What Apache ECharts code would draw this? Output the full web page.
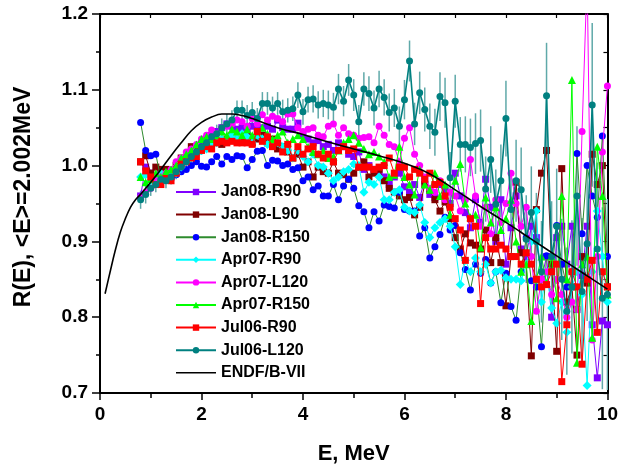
<!DOCTYPE html>
<html>
<head>
<meta charset="utf-8">
<script src="https://cdn.jsdelivr.net/npm/echarts@6/dist/echarts.min.js"></script>
<style>
html,body{margin:0;padding:0;background:#fff;}
#chart{width:621px;height:470px;}
</style>
</head>
<body>
<div id="chart"></div>
<script>
var energies = [
0.8,0.9,1.0,1.1,1.2,1.3,1.4,1.5,1.6,1.7,
1.8,1.9,2.0,2.1,2.2,2.3,2.4,2.5,2.6,2.7,
2.8,2.9,3.0,3.1,3.2,3.3,3.4,3.5,3.6,3.7,
3.8,3.9,4.0,4.1,4.2,4.3,4.4,4.5,4.6,4.7,
4.8,4.9,5.0,5.1,5.2,5.3,5.4,5.5,5.6,5.7,
5.8,5.9,6.0,6.1,6.2,6.3,6.4,6.5,6.6,6.7,
6.8,6.9,7.0,7.1,7.2,7.3,7.4,7.5,7.6,7.7,
7.8,7.9,8.0,8.1,8.2,8.3,8.4,8.5,8.6,8.7,
8.8,8.9,9.0,9.1,9.2,9.3,9.4,9.5,9.6,9.7,
9.8,9.9,10.0];

var jan08R90 = [
0.960,0.998,0.990,0.985,0.990,0.982,0.985,0.990,1.000,1.010,
1.020,1.025,1.030,1.035,1.040,1.045,1.050,1.055,1.052,1.048,
1.050,1.045,1.052,1.048,1.050,1.052,1.048,1.060,1.050,1.048,
1.048,1.056,1.040,1.035,1.030,1.033,1.025,1.028,1.020,1.030,
1.025,1.015,1.012,1.018,0.995,1.000,0.995,0.990,0.985,0.975,
0.985,0.990,0.972,0.965,0.975,0.958,0.980,0.962,0.958,0.975,
0.968,0.950,0.990,0.960,0.938,0.918,0.955,0.925,0.982,0.945,
0.900,0.955,0.870,0.918,0.960,0.890,0.880,0.920,0.905,0.850,
0.880,0.800,0.905,0.920,0.870,0.920,0.810,0.855,0.920,0.790,
0.720,0.795,0.790];

var jan08L90 = [
1.005,1.013,0.990,0.998,0.995,0.995,0.990,1.000,1.010,1.008,
1.025,1.020,1.022,1.025,1.030,1.032,1.028,1.035,1.040,1.035,
1.032,1.038,1.030,1.035,1.040,1.030,1.035,1.022,1.025,1.018,
1.010,1.015,0.998,1.005,0.985,0.998,0.992,0.990,1.005,0.990,
0.988,0.982,0.990,0.998,1.005,0.985,0.990,0.995,0.980,0.970,
0.965,0.960,0.955,0.958,0.935,0.945,0.975,0.968,0.955,0.940,
0.952,0.930,0.905,0.890,0.910,0.898,0.895,0.890,0.915,0.872,
0.905,0.872,0.815,0.880,0.978,0.885,0.870,0.749,0.942,0.990,
1.020,0.870,0.755,0.996,0.820,0.840,0.750,0.880,0.845,1.015,
0.975,1.000,0.840];

var jan08R150 = [
1.057,1.020,1.013,1.015,0.982,0.985,0.983,0.988,0.992,0.995,
1.000,1.005,0.999,0.998,1.005,1.012,1.002,1.012,1.008,1.013,
1.012,0.997,1.008,1.019,1.020,1.000,1.007,1.006,1.000,1.002,
0.995,0.997,0.980,0.985,0.968,0.973,0.960,0.960,0.975,0.955,
0.973,0.982,0.970,0.947,0.939,0.918,0.939,0.927,0.948,0.946,
0.944,0.965,0.942,0.940,0.940,0.907,0.918,0.878,0.893,0.909,
0.932,0.915,0.921,0.885,0.863,0.836,0.870,0.858,0.876,0.845,
0.860,0.819,0.858,0.814,0.796,0.860,0.905,0.848,0.840,0.761,
0.881,0.860,0.921,0.870,0.840,0.860,1.016,0.910,1.000,0.960,
0.932,1.039,0.880];

var apr07R90 = [
0.985,0.988,0.980,0.985,0.990,0.985,0.988,0.990,0.998,1.005,
1.010,1.015,1.020,1.022,1.028,1.030,1.035,1.032,1.040,1.035,
1.042,1.038,1.030,1.040,1.035,1.028,1.032,1.030,1.025,1.020,
1.010,1.020,1.012,1.005,1.015,1.000,0.998,0.990,0.980,0.985,
0.992,0.995,1.002,1.000,0.965,0.978,0.975,0.985,0.955,0.955,
0.965,0.968,0.945,0.940,0.938,0.948,0.925,0.905,0.918,0.925,
0.930,0.920,0.893,0.843,0.875,0.860,0.878,0.860,0.870,0.845,
0.860,0.862,0.852,0.850,0.850,0.848,0.870,0.900,0.940,0.820,
0.860,0.812,0.792,0.820,0.780,0.840,0.860,0.830,0.710,0.860,
0.940,0.880,0.820];

var apr07L120 = [
0.958,0.965,0.970,0.980,0.985,0.990,0.995,1.005,1.010,1.018,
1.022,1.028,1.035,1.040,1.047,1.042,1.050,1.052,1.055,1.060,
1.058,1.052,1.062,1.055,1.067,1.060,1.065,1.062,1.058,1.068,
1.068,1.050,1.045,1.048,1.050,1.040,1.038,1.052,1.055,1.040,
1.050,1.042,1.040,1.036,1.037,1.038,1.030,1.052,1.040,1.028,
1.025,1.005,1.036,1.050,1.015,1.000,0.985,0.970,0.965,0.980,
0.955,0.965,0.960,0.940,0.955,1.008,0.960,0.920,0.945,0.910,
0.955,0.925,0.950,0.990,0.950,0.920,0.945,0.880,0.808,0.850,
0.860,0.830,0.850,0.830,0.800,0.820,0.810,1.045,1.250,0.770,
0.880,1.018,1.105];

var apr07R150 = [
0.985,0.978,0.982,0.990,0.985,0.992,0.995,1.000,1.010,1.015,
1.020,1.028,1.035,1.038,1.035,1.040,1.045,1.040,1.048,1.045,
1.040,1.048,1.040,1.045,1.050,1.042,1.035,1.040,1.045,1.030,
1.035,1.040,1.035,1.025,1.018,1.015,1.020,1.010,1.012,1.020,
1.030,1.035,1.040,1.030,1.022,1.015,1.018,1.012,1.005,0.985,
0.988,1.025,0.985,0.975,0.962,0.995,0.975,0.968,0.990,0.960,
0.975,0.935,0.980,1.002,0.950,0.932,0.935,0.892,0.958,0.925,
0.945,0.915,0.930,0.955,0.900,0.860,0.870,0.795,0.850,0.880,
0.845,0.880,0.825,0.960,0.850,1.113,0.740,0.870,0.880,0.773,
1.025,0.960,0.830];

var jul06R90 = [
1.005,0.993,0.985,0.975,0.975,0.983,0.980,0.990,1.002,1.005,
1.010,1.012,1.020,1.025,1.022,1.030,1.032,1.030,1.032,1.030,
1.030,1.030,1.028,1.045,1.032,1.038,1.025,1.030,1.018,1.028,
1.010,1.025,1.015,1.022,1.025,1.015,1.010,1.015,1.005,1.020,
1.025,1.020,1.022,0.998,0.998,0.998,0.995,0.998,1.000,1.010,
0.990,0.998,0.998,0.985,0.995,0.990,0.982,0.990,0.975,0.978,
0.960,0.945,0.930,0.915,0.875,0.930,0.920,0.818,0.905,0.890,
0.890,0.895,0.890,0.880,0.880,0.870,0.885,0.870,0.850,0.840,
0.843,0.860,0.870,0.715,0.790,0.860,0.840,0.738,0.850,0.875,
0.780,0.860,0.840];

var jul06L120 = [
0.955,0.962,0.970,0.975,0.982,0.980,0.985,0.992,0.998,1.005,
1.012,1.018,1.025,1.030,1.038,1.042,1.050,1.055,1.060,1.073,
1.073,1.066,1.070,1.062,1.082,1.082,1.076,1.082,1.071,1.073,
1.075,1.093,1.071,1.087,1.088,1.080,1.082,1.080,1.077,1.101,
1.085,1.113,1.093,1.058,1.101,1.095,1.076,1.101,1.090,1.070,
1.076,1.052,1.087,1.138,1.055,1.096,1.074,1.052,1.044,1.091,
1.083,0.984,1.085,1.028,1.028,1.024,1.029,1.033,0.969,1.008,
0.949,0.980,1.062,0.942,0.980,0.968,0.903,0.938,0.900,0.860,
1.092,0.880,0.920,0.850,0.808,0.840,0.960,0.834,0.897,1.080,
0.890,0.825,0.830];

var jul06L120Err = [
0.012,0.012,0.010,0.010,0.010,0.010,0.010,0.010,0.010,0.010,
0.011,0.011,0.011,0.012,0.012,0.012,0.012,0.013,0.013,0.013,
0.013,0.014,0.014,0.014,0.015,0.015,0.015,0.015,0.016,0.016,
0.016,0.017,0.017,0.017,0.018,0.018,0.018,0.019,0.019,0.020,
0.020,0.021,0.021,0.022,0.022,0.023,0.023,0.024,0.024,0.025,
0.025,0.026,0.026,0.027,0.028,0.028,0.029,0.030,0.031,0.032,
0.033,0.034,0.035,0.036,0.037,0.038,0.040,0.041,0.043,0.044,
0.046,0.048,0.050,0.052,0.054,0.056,0.058,0.061,0.064,0.067,
0.070,0.073,0.076,0.080,0.084,0.088,0.092,0.097,0.102,0.108,
0.114,0.120,0.126];

var endfE = [0.1,0.2,0.3,0.4,0.5,0.6,0.7,0.8,0.9,1.0,1.2,1.4,1.6,1.8,2.0,2.2,2.4,2.6,2.8,3.0,3.5,4.0,4.5,5.0,5.5,6.0,6.5,7.0,7.5,8.0,8.5,9.0,9.5,10.0];
var endfV = [0.831,0.860,0.888,0.912,0.930,0.945,0.955,0.962,0.970,0.978,0.995,1.013,1.030,1.046,1.057,1.064,1.068,1.068,1.066,1.062,1.050,1.041,1.031,1.022,1.013,1.003,0.989,0.968,0.946,0.925,0.903,0.881,0.859,0.837];

var xTicks = [0,2,4,6,8,10];
var yTicks = [0.7,0.8,0.9,1.0,1.1,1.2];
var xTitle = 'E, MeV';
var yTitle = 'R(E), <E>=2.002MeV';

function pairs(xs, ys){ return xs.map(function(x,i){ return [x, ys[i]]; }); }

var FONT = 'Liberation Sans, Arial, sans-serif';

var seriesDefs = [
  {name:'Jan08-R90', data:jan08R90, symbol:'rect', color:'#8000FF', line:'#8000FF'},
  {name:'Jan08-L90', data:jan08L90, symbol:'rect', color:'#800000', line:'#800000'},
  {name:'Jan08-R150', data:jan08R150, symbol:'circle', color:'#0000FF', line:'#2E8B2E'},
  {name:'Apr07-R90', data:apr07R90, symbol:'diamond', color:'#00FFFF', line:'#00FFFF'},
  {name:'Apr07-L120', data:apr07L120, symbol:'circle', color:'#FF00FF', line:'#FF00FF'},
  {name:'Apr07-R150', data:apr07R150, symbol:'triangle', color:'#00FF00', line:'#00FF00'},
  {name:'Jul06-R90', data:jul06R90, symbol:'rect', color:'#FF0000', line:'#FF0000'},
  {name:'Jul06-L120', data:jul06L120, symbol:'circle', color:'#008080', line:'#008080'}
];

var series = [];
series.push({
  type:'custom', name:'err', silent:true, clip:true, z:1,
  data: energies.map(function(e,i){ return [e, jul06L120[i]-jul06L120Err[i], jul06L120[i]+jul06L120Err[i]]; }),
  encode:{x:0, y:[1,2]},
  renderItem:function(params, api){
    var p1 = api.coord([api.value(0), api.value(1)]);
    var p2 = api.coord([api.value(0), api.value(2)]);
    return {type:'line', shape:{x1:p1[0],y1:p1[1],x2:p2[0],y2:p2[1]}, style:{stroke:'#5FA9A9', lineWidth:1.5}};
  }
});
seriesDefs.forEach(function(d, k){
  series.push({
    type:'line', name:d.name, data:pairs(energies, d.data),
    symbol:d.symbol, symbolSize: d.symbol==='triangle'?8:(d.symbol==='diamond'?9:7),
    showSymbol:true, clip:true, z:2+k,
    itemStyle:{color:d.color},
    lineStyle:{color:d.line, width: d.name==='Jul06-L120'?1.6:1},
    emphasis:{disabled:true}
  });
});
series.push({
  type:'line', name:'ENDF/B-VII', data:pairs(endfE, endfV), smooth:0.4,
  symbol:'none', showSymbol:false, z:20,
  lineStyle:{color:'#000000', width:1.6}, itemStyle:{color:'#000000'}
});

var legendData = seriesDefs.map(function(d){ return {name:d.name}; });
legendData.push({name:'ENDF/B-VII', icon:'path://M0,4.2 L40,4.2 L40,5.8 L0,5.8 Z', itemStyle:{color:'#000'}});

var chart = echarts.init(document.getElementById('chart'), null, {renderer:'canvas'});
chart.setOption({
  animation:false,
  backgroundColor:'#ffffff',
  grid:{left:100, right:11, top:14, bottom:75},
  legend:{
    orient:'vertical', left:170, top:179,
    data:legendData,
    itemWidth:40, itemHeight:8, itemGap:6.6,
    textStyle:{fontFamily:FONT, fontWeight:'bold', fontSize:16, color:'#000', lineHeight:16},
    selectedMode:false
  },
  graphic:[{
    type:'text', x:24, y:197, rotation:Math.PI/2,
    style:{text:yTitle, fontFamily:FONT, fontWeight:'bold', fontSize:23, fill:'#000', textAlign:'center', textVerticalAlign:'middle'}
  }],
  xAxis:[{
    type:'value', min:0, max:10, interval:2,
    name:xTitle, nameLocation:'middle', nameGap:50,
    nameTextStyle:{fontFamily:FONT, fontWeight:'bold', fontSize:22, color:'#000'},
    axisLine:{show:true, onZero:false, lineStyle:{color:'#000', width:2}},
    axisTick:{show:true, inside:false, length:7, lineStyle:{color:'#000', width:1.5}},
    minorTick:{show:true, splitNumber:2, length:5, lineStyle:{color:'#000', width:1.5}},
    splitLine:{show:false},
    axisLabel:{fontFamily:FONT, fontWeight:'bold', fontSize:19, color:'#000', margin:12,
      formatter:function(v){ return xTicks.indexOf(v)>=0 ? String(v) : ''; }}
  },{
    type:'value', min:0, max:10, interval:2, position:'top',
    axisLine:{show:true, onZero:false, lineStyle:{color:'#000', width:2}},
    axisTick:{show:true, inside:true, length:4, lineStyle:{color:'#000', width:1.2}},
    minorTick:{show:true, splitNumber:2, length:4, lineStyle:{color:'#000', width:1.2}},
    splitLine:{show:false}, axisLabel:{show:false}
  }],
  yAxis:[{
    type:'value', min:0.7, max:1.2, interval:0.1,
    axisLine:{show:true, onZero:false, lineStyle:{color:'#000', width:2}},
    axisTick:{show:true, inside:false, length:8, lineStyle:{color:'#000', width:1.5}},
    minorTick:{show:true, splitNumber:2, length:4, lineStyle:{color:'#000', width:1.5}},
    splitLine:{show:false},
    axisLabel:{fontFamily:FONT, fontWeight:'bold', fontSize:19, color:'#000', margin:12,
      formatter:function(v){ var r=Math.round(v*10)/10; return yTicks.indexOf(r)>=0 ? r.toFixed(1) : ''; }}
  },{
    type:'value', min:0.7, max:1.2, interval:0.1, position:'right',
    axisLine:{show:true, onZero:false, lineStyle:{color:'#000', width:2}},
    axisTick:{show:true, inside:true, length:4, lineStyle:{color:'#000', width:1.2}},
    minorTick:{show:true, splitNumber:2, length:4, lineStyle:{color:'#000', width:1.2}},
    splitLine:{show:false}, axisLabel:{show:false}
  }],
  series:series
});
</script>
</body>
</html>
